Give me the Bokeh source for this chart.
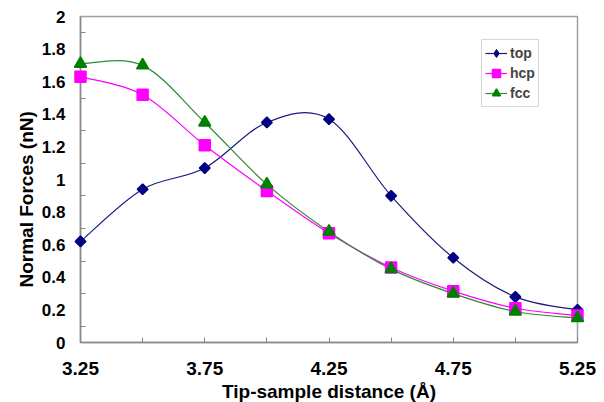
import math
from bokeh.plotting import figure
from bokeh.models import Range1d, FixedTicker, Legend, LegendItem, Title
from bokeh.embed import file_html
from bokeh.resources import INLINE

distance = [3.25, 3.5, 3.75, 4.0, 4.25, 4.5, 4.75, 5.0, 5.25]
top = [0.62, 0.94, 1.07, 1.35, 1.37, 0.90, 0.52, 0.28, 0.20]
hcp = [1.63, 1.52, 1.21, 0.93, 0.67, 0.46, 0.315, 0.21, 0.165]
fcc = [1.71, 1.70, 1.35, 0.97, 0.68, 0.45, 0.30, 0.19, 0.15]

x_ticks = [3.25, 3.75, 4.25, 4.75, 5.25]
x_minor = [3.5, 4.0, 4.5, 5.0]
y_ticks = [0, 0.2, 0.4, 0.6, 0.8, 1.0, 1.2, 1.4, 1.6, 1.8, 2.0]
y_minor = [0.1, 0.3, 0.5, 0.7, 0.9, 1.1, 1.3, 1.5, 1.7, 1.9]

FONT = "Liberation Sans"

p = figure(width=604, height=402, frame_width=497, frame_height=326,
           output_backend="svg", toolbar_location=None,
           x_range=Range1d(3.25, 5.25), y_range=Range1d(0, 2),
           min_border_left=80, min_border_right=27, min_border_top=16,
           min_border_bottom=60)
p.background_fill_color = "white"
p.border_fill_color = "white"
p.outline_line_color = "#a0a0a0"
p.outline_line_width = 1.5
p.grid.visible = False


def smooth(xs, ys):
    n = len(xs)
    x0, y0, x1, y1, cx0, cy0, cx1, cy1 = [], [], [], [], [], [], [], []
    for i in range(n - 1):
        pm = i - 1 if i > 0 else i
        pp = i + 2 if i + 2 < n else i + 1
        x0.append(xs[i]); y0.append(ys[i])
        x1.append(xs[i + 1]); y1.append(ys[i + 1])
        cx0.append(xs[i] + (xs[i + 1] - xs[pm]) / 6)
        cy0.append(ys[i] + (ys[i + 1] - ys[pm]) / 6)
        cx1.append(xs[i + 1] - (xs[pp] - xs[i]) / 6)
        cy1.append(ys[i + 1] - (ys[pp] - ys[i]) / 6)
    return dict(x0=x0, y0=y0, x1=x1, y1=y1, cx0=cx0, cy0=cy0, cx1=cx1, cy1=cy1)


series = [
    ("top", top, "#000080", "#1a1a80", "square", 7.5, math.pi / 4, "diamond"),
    ("hcp", hcp, "#ff00ff", "#ff00ff", "square", 11, 0, None),
    ("fcc", fcc, "#008000", "#2e8b2e", "triangle", 12, 0, None),
]
items = []
for name, ys, mcol, lcol, marker, size, ang, lmark in series:
    b = smooth(distance, ys)
    p.bezier(x0=b["x0"], y0=b["y0"], x1=b["x1"], y1=b["y1"],
             cx0=b["cx0"], cy0=b["cy0"], cx1=b["cx1"], cy1=b["cy1"],
             line_color=lcol, line_width=1.2)
for name, ys, mcol, lcol, marker, size, ang, lmark in series:
    r = p.scatter(distance, ys, marker=marker, size=size, angle=ang,
                  fill_color=mcol, line_color=mcol, line_width=1.5,
                  level="overlay")
    ln = p.line(distance[:1], ys[:1], line_color=lcol, line_width=1.2)
    if lmark is not None:
        r = p.scatter(distance[:1], ys[:1], marker=lmark, size=11,
                      fill_color=mcol, line_color=mcol)
    items.append(LegendItem(label=name, renderers=[ln, r]))

legend = Legend(items=items, location=(401, 235))
legend.border_line_color = "#b0b0b0"
legend.border_line_width = 1
legend.label_text_font = FONT
legend.label_text_font_size = "14px"
legend.label_text_font_style = "bold"
legend.padding = 3
legend.spacing = 0
legend.margin = 0
legend.glyph_width = 22
legend.glyph_height = 20
legend.label_height = 20
legend.label_standoff = 3
legend.background_fill_alpha = 1
p.add_layout(legend, "center")

p.xaxis.ticker = FixedTicker(ticks=x_ticks, minor_ticks=x_minor)
p.xaxis.major_label_overrides = {v: f"{v:g}" for v in x_ticks}
p.yaxis.ticker = FixedTicker(ticks=y_ticks, minor_ticks=y_minor)
p.yaxis.major_label_overrides = {v: f"{v:g}" for v in y_ticks}

for ax in (p.xaxis, p.yaxis):
    ax.axis_line_color = "#888888"
    ax.axis_line_width = 1.5
    ax.major_tick_line_color = "#888888"
    ax.minor_tick_line_color = "#888888"
    ax.major_tick_out = 0
    ax.minor_tick_out = 0
    ax.major_label_text_font = FONT
    ax.major_label_text_font_style = "bold"
    ax.major_label_text_color = "black"
    ax.axis_label_text_font = FONT
    ax.axis_label_text_font_size = "19px"
    ax.axis_label_text_font_style = "bold"
    ax.axis_label_text_color = "black"

p.xaxis.major_label_text_font_size = "19px"
p.yaxis.major_label_text_font_size = "17px"
p.xaxis.major_tick_in = 5
p.xaxis.minor_tick_in = 5
p.yaxis.major_tick_in = 0
p.yaxis.minor_tick_in = 5
p.xaxis.axis_label = "Tip-sample distance (Å)"
p.xaxis.major_label_standoff = 19
p.yaxis.major_label_standoff = 15
p.xaxis.axis_label_standoff = 3

ytitle = Title(text="Normal Forces (nN)", align="left", offset=55,
               text_font=FONT, text_font_size="19px", text_font_style="bold",
               text_color="black", standoff=4)
p.add_layout(ytitle, "left")

open("out.html", "w").write(file_html(p, INLINE))
